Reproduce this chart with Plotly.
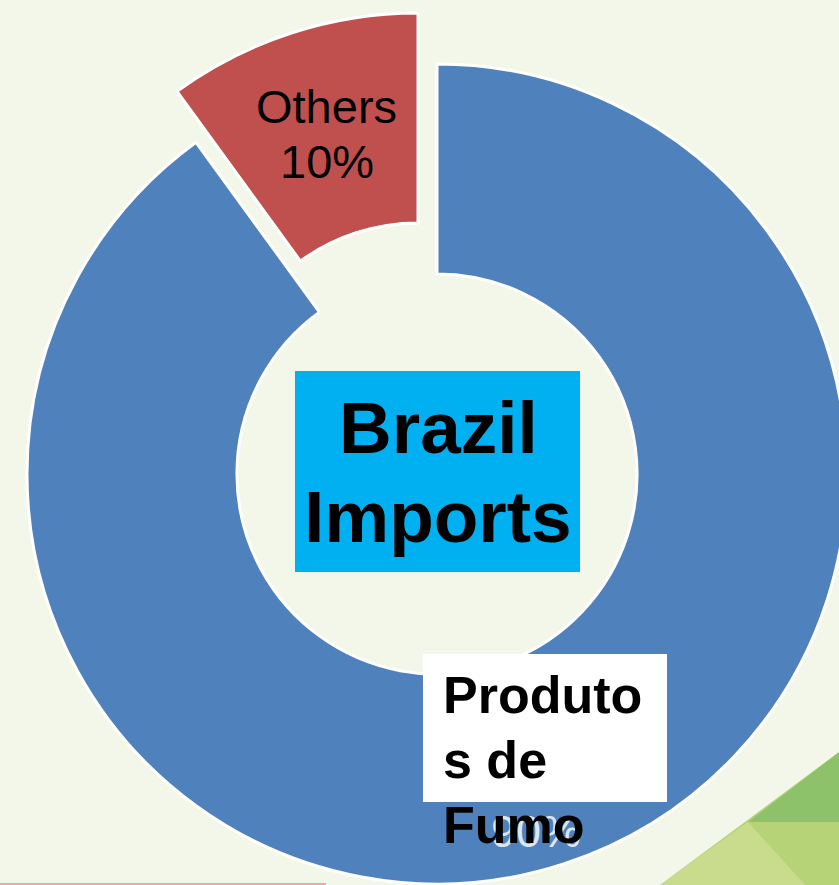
import plotly.graph_objects as go

# ---- data ----
categories = ["Produtos de Fumo", "Others"]
shares = [90, 10]
pct_labels = ["90%", "10%"]
produtos_lines = ["Produto", "s de", "Fumo"]
center_lines = ["Brazil", "Imports"]

BLUE = "#4F81BD"
RED = "#C0504D"
BG = "#F3F7E9"
CLEAR = "rgba(0,0,0,0)"

# figure is slightly wider than the window; page overflow is hidden so the ring is clipped at the right
W, H = 847, 885


def px(x):
    return x / W


def py(y):
    return 1 - y / H


fig = go.Figure()

# main ring (Produtos de Fumo), Others slice left empty
fig.add_trace(go.Pie(
    labels=categories, values=shares, sort=False, direction="clockwise", rotation=0,
    hole=0.488, textinfo="none", hoverinfo="skip", showlegend=False,
    marker=dict(colors=[BLUE, CLEAR], line=dict(color=["white", CLEAR], width=3)),
    domain=dict(x=[27 / W, 1.0], y=[1 / H, 821 / H]),
))

# exploded Others slice
fig.add_trace(go.Pie(
    labels=categories, values=shares, sort=False, direction="clockwise", rotation=0,
    hole=0.488, textinfo="none", hoverinfo="skip", showlegend=False,
    marker=dict(colors=[CLEAR, RED], line=dict(color=[CLEAR, "white"], width=3)),
    domain=dict(x=[8 / W, 828 / W], y=[52 / H, 872 / H]),
))

shapes = [
    # decorative green corner
    dict(type="path", xref="paper", yref="paper", layer="below",
         path=f"M {px(660)} {py(885)} L {px(847)} {py(746)} L {px(847)} {py(885)} Z",
         fillcolor="#B7D377", line=dict(width=0)),
    dict(type="path", xref="paper", yref="paper", layer="below",
         path=f"M {px(748)} {py(822)} L {px(847)} {py(746)} L {px(847)} {py(822)} Z",
         fillcolor="#8EC26A", line=dict(width=0)),
    dict(type="path", xref="paper", yref="paper", layer="below",
         path=f"M {px(660)} {py(885)} L {px(748)} {py(822)} L {px(805)} {py(885)} Z",
         fillcolor="#C9DC8E", line=dict(width=0)),
    # bottom red rule
    dict(type="line", xref="paper", yref="paper", layer="below",
         x0=0, x1=px(326), y0=py(884), y1=py(884),
         line=dict(color="#F2A7A0", width=2)),
    # centre title box
    dict(type="rect", xref="paper", yref="paper",
         x0=px(295), x1=px(580), y0=py(572), y1=py(371),
         fillcolor="#00B0F0", line=dict(width=0)),
    # label box
    dict(type="rect", xref="paper", yref="paper",
         x0=px(423), x1=px(667), y0=py(802), y1=py(654),
         fillcolor="white", line=dict(width=0)),
]

FONT = "Arial, Liberation Sans"
annotations = []
# percent label of big slice (behind label text)
annotations.append(dict(text=pct_labels[0], x=px(536), y=py(847 - 0.35 * 45), xref="paper", yref="paper",
                        showarrow=False, xanchor="center", yanchor="middle",
                        font=dict(family=FONT, size=45, color="#DCE6F2")))
# Others label
annotations.append(dict(text=categories[1], x=px(326), y=py(123 - 0.35 * 47), xref="paper", yref="paper",
                        showarrow=False, xanchor="center", yanchor="middle",
                        font=dict(family=FONT, size=47, color="black")))
annotations.append(dict(text=pct_labels[1], x=px(327), y=py(178 - 0.35 * 47), xref="paper", yref="paper",
                        showarrow=False, xanchor="center", yanchor="middle",
                        font=dict(family=FONT, size=47, color="black")))
# centre title
for line, base in zip(center_lines, [453, 542]):
    annotations.append(dict(text=f"<b>{line}</b>", x=px(438), y=py(base - 0.35 * 73), xref="paper", yref="paper",
                            showarrow=False, xanchor="center", yanchor="middle",
                            font=dict(family=FONT, size=73, color="black")))
# Produtos de Fumo label
for line, base in zip(produtos_lines, [713, 778, 843]):
    annotations.append(dict(text=f"<b>{line}</b>", x=px(441), y=py(base - 0.35 * 52), xref="paper", yref="paper",
                            showarrow=False, xanchor="left", yanchor="middle", align="left",
                            font=dict(family=FONT, size=52, color="black")))

fig.update_layout(
    width=W, height=H, margin=dict(l=0, r=0, t=0, b=0),
    paper_bgcolor=BG, plot_bgcolor=BG,
    shapes=shapes, annotations=annotations, showlegend=False,
)

page_css = (
    "document.documentElement.style.margin='0';"
    "document.body.style.margin='0';"
    "document.documentElement.style.overflow='hidden';"
    "document.body.style.overflow='hidden';"
    "document.body.style.background='" + BG + "';"
)

fig.write_html("out.html", post_script=page_css, config={"displayModeBar": False})
